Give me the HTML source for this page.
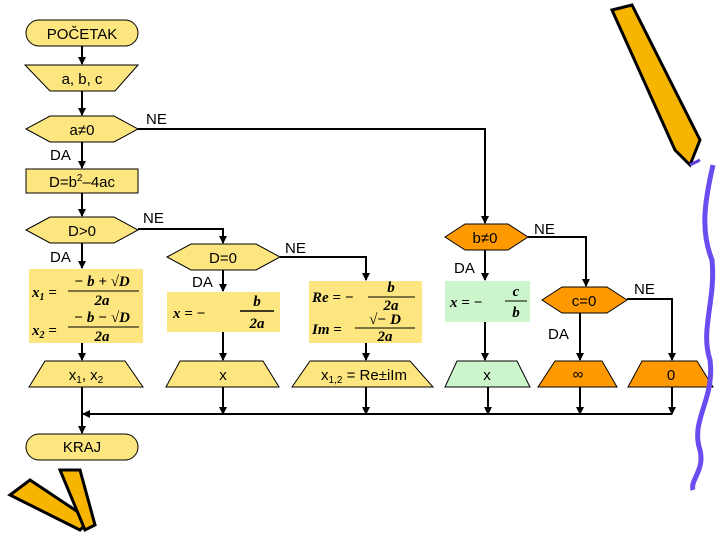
<!DOCTYPE html>
<html><head><meta charset="utf-8"><style>
html,body{margin:0;padding:0;background:#fff;}
svg{display:block;}
text{font-family:"Liberation Sans",sans-serif;font-size:15px;fill:#000;}
.m{font-family:"Liberation Serif",serif;font-weight:bold;font-style:italic;font-size:15px;}
</style></head><body>
<svg width="720" height="540" viewBox="0 0 720 540" xmlns="http://www.w3.org/2000/svg">
<defs><marker id="a" markerWidth="8" markerHeight="8" refX="7" refY="4" orient="auto" markerUnits="userSpaceOnUse"><path d="M0,0 L8,4 L0,8 z" fill="#000"/></marker></defs>
<g stroke="#000" stroke-width="2" fill="none">
<line x1="82" y1="46" x2="82" y2="64" marker-end="url(#a)"/>
<line x1="82" y1="91" x2="82" y2="115" marker-end="url(#a)"/>
<line x1="82" y1="142" x2="82" y2="168" marker-end="url(#a)"/>
<line x1="82" y1="193" x2="82" y2="216" marker-end="url(#a)"/>
<line x1="82" y1="243" x2="82" y2="268" marker-end="url(#a)"/>
<line x1="82" y1="343" x2="82" y2="360" marker-end="url(#a)"/>
<polyline points="138,129 485,129 485,223" marker-end="url(#a)"/>
<polyline points="138,229 223,229 223,243" marker-end="url(#a)"/>
<polyline points="280,257 366,257 366,280" marker-end="url(#a)"/>
<line x1="223" y1="270" x2="223" y2="291" marker-end="url(#a)"/>
<line x1="223" y1="332" x2="223" y2="360" marker-end="url(#a)"/>
<line x1="366" y1="343" x2="366" y2="360" marker-end="url(#a)"/>
<line x1="485" y1="250" x2="485" y2="280" marker-end="url(#a)"/>
<line x1="485" y1="322" x2="485" y2="360" marker-end="url(#a)"/>
<polyline points="528,237 586,237 586,286" marker-end="url(#a)"/>
<line x1="580" y1="313" x2="580" y2="360" marker-end="url(#a)"/>
<polyline points="627,299 672,299 672,360" marker-end="url(#a)"/>
<line x1="223" y1="387" x2="223" y2="414" marker-end="url(#a)"/>
<line x1="366" y1="387" x2="366" y2="414" marker-end="url(#a)"/>
<line x1="488" y1="387" x2="488" y2="414" marker-end="url(#a)"/>
<line x1="580" y1="387" x2="580" y2="414" marker-end="url(#a)"/>
<line x1="672" y1="387" x2="672" y2="414" marker-end="url(#a)"/>
<line x1="672" y1="414" x2="83" y2="414" marker-end="url(#a)"/>
<line x1="82" y1="387" x2="82" y2="433" marker-end="url(#a)"/>
</g>
<g stroke="#000" stroke-width="1" fill="#fde680">
<rect x="26" y="20" width="112" height="26" rx="13"/>
<polygon points="25,65 138,65 115,91 50,91"/>
<polygon points="26,129 50,116 114,116 138,129 114,142 50,142"/>
<rect x="26" y="169" width="112" height="24"/>
<polygon points="26,230 50,217 114,217 138,230 114,243 50,243"/>
<polygon points="167,257 191,244 256,244 280,257 256,270 191,270"/>
<polygon points="29,387 45,361 125,361 143,387"/>
<polygon points="166,387 180,361 263,361 279,387"/>
<polygon points="292,387 310,361 410,361 433,387"/>
<rect x="26" y="434" width="112" height="26" rx="13"/>
</g>
<g fill="#fde680"><rect x="29" y="269" width="114" height="74"/><rect x="167" y="292" width="113" height="40"/><rect x="309" y="281" width="113" height="62"/></g>
<rect x="445" y="281" width="85" height="41" fill="#ccf5cc"/>
<polygon points="445,387 457,361 517,361 530,387" fill="#ccf5cc" stroke="#000"/>
<g stroke="#000" fill="#ff9900">
<polygon points="445,237 465,224 508,224 528,237 508,250 465,250"/>
<polygon points="542,300 562,287 607,287 627,300 607,313 562,313"/>
<polygon points="538,387 555,361 602,361 617,387"/>
<polygon points="628,387 642,361 697,361 713,387"/>
</g>
<g text-anchor="middle">
<text x="82" y="39">POČETAK</text>
<text x="82" y="84">a, b, c</text>
<text x="82" y="135">a≠0</text>
<text x="82" y="187">D=b<tspan font-size="10" dy="-6">2</tspan><tspan dy="6">–4ac</tspan></text>
<text x="82" y="236">D&gt;0</text>
<text x="223" y="263">D=0</text>
<text x="485" y="243">b≠0</text>
<text x="584" y="306">c=0</text>
<text x="86" y="380">x<tspan font-size="10" dy="3">1</tspan><tspan dy="-3">, x</tspan><tspan font-size="10" dy="3">2</tspan></text>
<text x="223" y="380">x</text>
<text x="364" y="380">x<tspan font-size="10" dy="3">1,2</tspan><tspan dy="-3"> = Re±iIm</tspan></text>
<text x="487" y="380">x</text>
<text x="578" y="379">∞</text>
<text x="671" y="380">0</text>
<text x="82" y="452">KRAJ</text>
</g>
<g font-size="14">
<text x="146" y="124">NE</text><text x="50" y="160">DA</text>
<text x="143" y="223">NE</text><text x="50" y="262">DA</text>
<text x="285" y="253">NE</text><text x="192" y="287">DA</text>
<text x="534" y="234">NE</text><text x="454" y="273">DA</text>
<text x="634" y="294">NE</text><text x="548" y="339">DA</text>
</g>
<g>
<text x="32" y="297" class="m">x<tspan font-size="10" dy="3">1</tspan><tspan dy="-3"> =</tspan></text><text x="102" y="286" class="m" text-anchor="middle">− b + √D</text><line x1="68" y1="291" x2="139" y2="291" stroke="#000"/><text x="102" y="305" class="m" text-anchor="middle">2a</text>
<text x="32" y="335" class="m">x<tspan font-size="10" dy="3">2</tspan><tspan dy="-3"> =</tspan></text><text x="102" y="322" class="m" text-anchor="middle">− b − √D</text><line x1="68" y1="327" x2="139" y2="327" stroke="#000"/><text x="102" y="341" class="m" text-anchor="middle">2a</text>
<text x="173" y="318" class="m" font-size="18">x = −</text><line x1="240" y1="311" x2="274" y2="311" stroke="#000" stroke-width="1.5"/><text x="257" y="306" class="m" font-size="18" text-anchor="middle">b</text><text x="257" y="328" class="m" font-size="18" text-anchor="middle">2a</text>
<text x="312" y="302" class="m" font-style="normal">Re = −</text><line x1="368" y1="297" x2="415" y2="297" stroke="#000"/><text x="391" y="292" class="m" text-anchor="middle">b</text><text x="391" y="310" class="m" text-anchor="middle">2a</text>
<text x="312" y="334" class="m" font-style="normal">Im =</text><line x1="355" y1="328" x2="415" y2="328" stroke="#000"/><text x="385" y="324" class="m" text-anchor="middle">√− D</text><text x="385" y="341" class="m" text-anchor="middle">2a</text>
<text x="450" y="307" class="m" font-size="16">x = −</text><line x1="505" y1="301" x2="527" y2="301" stroke="#000"/><text x="516" y="296" class="m" text-anchor="middle">c</text><text x="516" y="317" class="m" text-anchor="middle">b</text>
</g>
<!-- decorations -->
<g stroke="#000" stroke-width="3">
<polygon points="612,10 632,5 700,140 690,165 675,150" fill="#f7b500"/>
<line x1="690" y1="165" x2="700" y2="160" stroke="#6040e0"/>
<polygon points="30,480 90,520 80,530 10,495" fill="#f7b500"/>
<polygon points="60,470 80,470 95,525 85,530" fill="#f7b500"/>
</g>
<path d="M713,165 C705,200 700,230 712,260 C716,300 700,330 710,360 C715,400 690,420 700,450 C705,470 690,480 693,490" stroke="#6a4cf0" stroke-width="5" fill="none"/>
</svg>
</body></html>
